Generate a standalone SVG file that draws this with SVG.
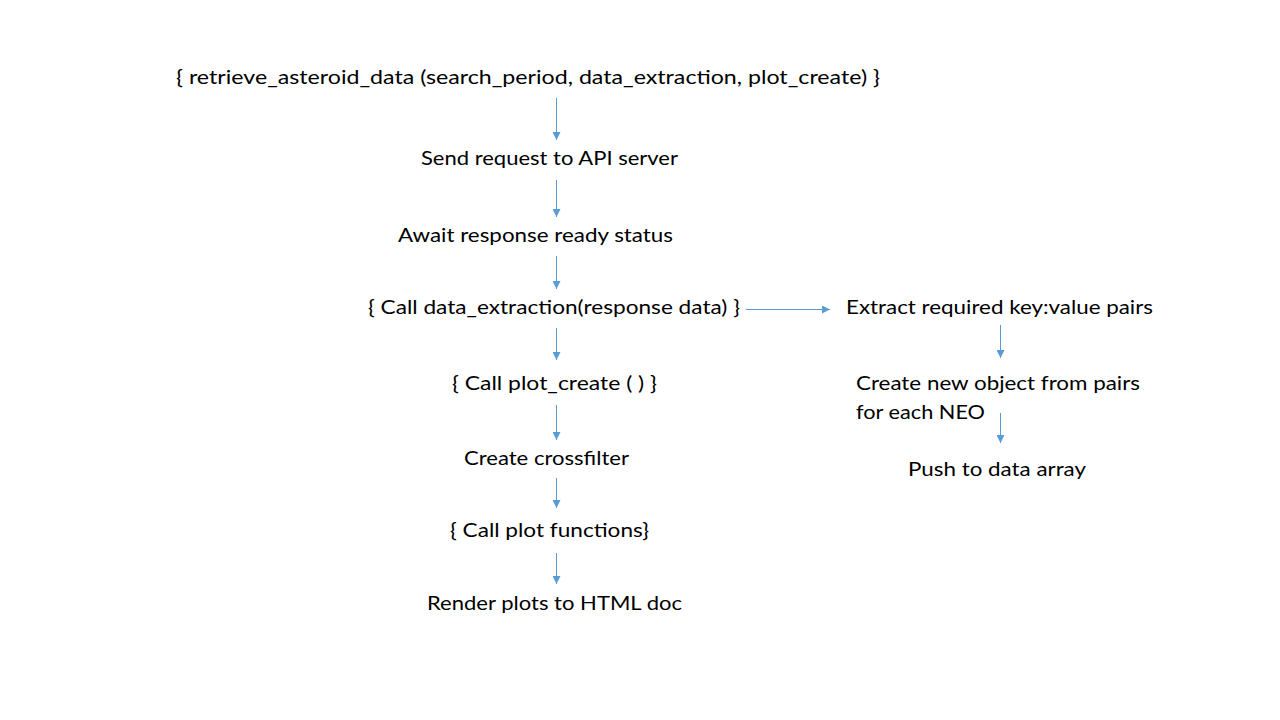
<svg xmlns="http://www.w3.org/2000/svg" width="1280" height="720" viewBox="0 0 1280 720">
<style>
text{font-family:Lato,"Open Sans","Liberation Sans",sans-serif;font-size:20px;fill:#000}
.c line{stroke:#5b9bd5;stroke-width:1;fill:none}
</style>
<defs>
<marker id="ah" viewBox="0 0 10 10" refX="10" refY="5" markerWidth="8" markerHeight="8" markerUnits="userSpaceOnUse" orient="auto">
<path d="M0,0 L10,5 L0,10 z" fill="#5b9bd5"/>
</marker>
</defs>
<rect width="1280" height="720" fill="#fff"/>
<g id="n1"><text x="176" y="84" textLength="704" lengthAdjust="spacingAndGlyphs">{ retrieve_asteroid_data (search_period, data_extraction, plot_create) }</text></g>
<g id="n2"><text x="421" y="165" textLength="257" lengthAdjust="spacingAndGlyphs">Send request to API server</text></g>
<g id="n3"><text x="398" y="242" textLength="275" lengthAdjust="spacingAndGlyphs">Await response ready status</text></g>
<g id="n4"><text x="368" y="314" textLength="372" lengthAdjust="spacingAndGlyphs">{ Call data_extraction(response data) }</text></g>
<g id="n5"><text x="846" y="314" textLength="307" lengthAdjust="spacingAndGlyphs">Extract required key:value pairs</text></g>
<g id="n6"><text x="856" y="390" textLength="284" lengthAdjust="spacingAndGlyphs">Create new object from pairs</text><text x="856" y="419" textLength="129" lengthAdjust="spacingAndGlyphs">for each NEO</text></g>
<g id="n7"><text x="908" y="476" textLength="178" lengthAdjust="spacingAndGlyphs">Push to data array</text></g>
<g id="n8"><text x="452" y="390" textLength="205" lengthAdjust="spacingAndGlyphs">{ Call plot_create ( ) }</text></g>
<g id="n9"><text x="464" y="465" textLength="165" lengthAdjust="spacingAndGlyphs">Create crossfilter</text></g>
<g id="n10"><text x="450" y="537" textLength="199" lengthAdjust="spacingAndGlyphs">{ Call plot functions}</text></g>
<g id="n11"><text x="427" y="610" textLength="255" lengthAdjust="spacingAndGlyphs">Render plots to HTML doc</text></g>
<g class="c" id="connectors">
<line x1="556.5" y1="98" x2="556.5" y2="140" marker-end="url(#ah)"/>
<line x1="556.5" y1="180" x2="556.5" y2="217" marker-end="url(#ah)"/>
<line x1="556.5" y1="256" x2="556.5" y2="289" marker-end="url(#ah)"/>
<line x1="746" y1="309.5" x2="830" y2="309.5" marker-end="url(#ah)"/>
<line x1="1000.5" y1="325" x2="1000.5" y2="358" marker-end="url(#ah)"/>
<line x1="1000.5" y1="413" x2="1000.5" y2="443" marker-end="url(#ah)"/>
<line x1="556.5" y1="328" x2="556.5" y2="360" marker-end="url(#ah)"/>
<line x1="556.5" y1="405" x2="556.5" y2="440" marker-end="url(#ah)"/>
<line x1="556.5" y1="478" x2="556.5" y2="508" marker-end="url(#ah)"/>
<line x1="556.5" y1="553" x2="556.5" y2="584" marker-end="url(#ah)"/>
</g>
</svg>
